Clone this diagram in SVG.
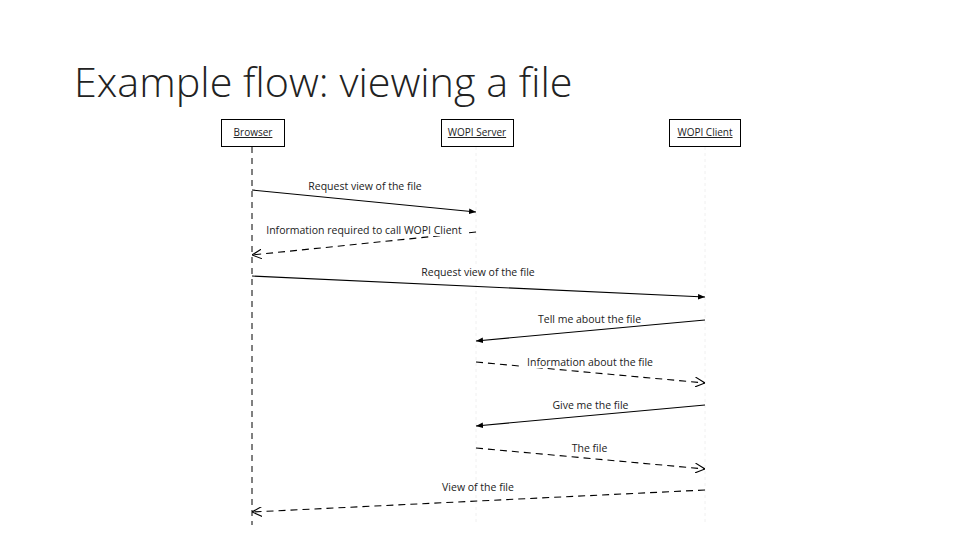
<svg xmlns="http://www.w3.org/2000/svg" width="960" height="540" viewBox="0 0 960 540">
<style>
.title{font-family:"Open Sans","Liberation Sans",sans-serif;font-weight:300;font-size:41.3px;fill:#222}
.box{fill:#fff;stroke:#000;stroke-width:1}
.nl{font-family:"Open Sans","Liberation Sans",sans-serif;font-size:10px;fill:#222;text-decoration:underline;text-anchor:middle}
.life{stroke:#000;stroke-width:1;stroke-dasharray:6,5;fill:none}
.faint{stroke:#f0f0f0;stroke-width:1;stroke-dasharray:3,3;fill:none}
.msg{stroke:#000;stroke-width:1.1;fill:none}
.ret{stroke:#000;stroke-width:1.1;fill:none;stroke-dasharray:7,5}
.lbl{font-family:"Open Sans","Liberation Sans",sans-serif;font-size:10.5px;fill:#222;text-anchor:middle}
.bg{fill:#fff}
</style>
<defs>
<marker id="fill" viewBox="0 0 10 10" refX="10" refY="5" markerWidth="7" markerHeight="7" markerUnits="userSpaceOnUse" orient="auto">
<path d="M0,1 L10,5 L0,9 Z" fill="#000"/>
</marker>
<marker id="open" viewBox="0 0 10 10" refX="10" refY="5" markerWidth="10" markerHeight="10" markerUnits="userSpaceOnUse" orient="auto">
<path d="M0,0 L10,5 L0,10" fill="none" stroke="#000" stroke-width="1.1"/>
</marker>
</defs>
<rect width="960" height="540" fill="#fff"/>
<text class="title" x="74" y="97">Example flow: viewing a file</text>

<g id="lifelines">
<line class="life" x1="252" y1="147" x2="252" y2="525"/>
<line class="faint" x1="476" y1="147" x2="476" y2="525"/>
<line class="faint" x1="705" y1="147" x2="705" y2="525"/>
</g>

<g id="browser">
<rect class="box" x="221.5" y="119.5" width="63" height="27"/>
<text class="nl" x="253" y="136">Browser</text>
</g>
<g id="wopi-server">
<rect class="box" x="441.5" y="119.5" width="72" height="27"/>
<text class="nl" x="477" y="136">WOPI Server</text>
</g>
<g id="wopi-client">
<rect class="box" x="669.5" y="119.5" width="71" height="27"/>
<text class="nl" x="705" y="136">WOPI Client</text>
</g>

<g id="connectors">
<line class="msg" x1="252" y1="190" x2="476" y2="212" marker-end="url(#fill)"/>
<rect class="bg" x="303" y="180" width="124" height="12"/>
<text class="lbl" x="365" y="190">Request view of the file</text>

<line class="ret" x1="476" y1="232" x2="252" y2="255" marker-end="url(#open)"/>
<rect class="bg" x="263" y="224" width="202" height="12"/>
<text class="lbl" x="364" y="234">Information required to call WOPI Client</text>

<line class="msg" x1="252" y1="276" x2="705" y2="297" marker-end="url(#fill)"/>
<rect class="bg" x="417" y="266" width="122" height="12"/>
<text class="lbl" x="478" y="276">Request view of the file</text>

<line class="msg" x1="705" y1="320" x2="476" y2="341" marker-end="url(#fill)"/>
<rect class="bg" x="534" y="313" width="111" height="12"/>
<text class="lbl" x="589.5" y="323">Tell me about the file</text>

<line class="ret" x1="476" y1="362" x2="705" y2="383" marker-end="url(#open)"/>
<rect class="bg" x="523" y="356" width="134" height="12"/>
<text class="lbl" x="590" y="366">Information about the file</text>

<line class="msg" x1="705" y1="405" x2="476" y2="426" marker-end="url(#fill)"/>
<rect class="bg" x="548" y="399" width="85" height="12"/>
<text class="lbl" x="590.5" y="409">Give me the file</text>

<line class="ret" x1="476" y1="448" x2="705" y2="469" marker-end="url(#open)"/>
<rect class="bg" x="568" y="442" width="43" height="12"/>
<text class="lbl" x="589.5" y="452">The file</text>

<line class="ret" x1="705" y1="490" x2="252" y2="512" marker-end="url(#open)"/>
<rect class="bg" x="437" y="481" width="82" height="12"/>
<text class="lbl" x="478" y="491">View of the file</text>
</g>
</svg>
